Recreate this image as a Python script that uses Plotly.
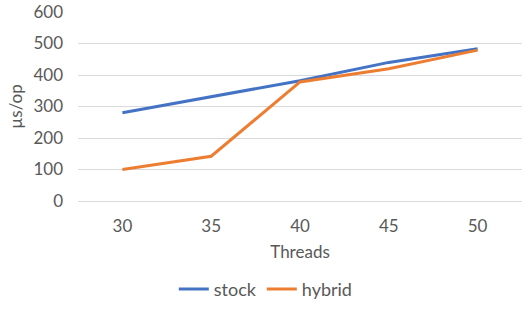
import plotly.graph_objects as go

threads = ["30", "35", "40", "45", "50"]
stock = [280, 330, 382, 440, 483]
hybrid = [100, 142, 378, 420, 479]
y_ticks = [0, 100, 200, 300, 400, 500, 600]

font_family = "Lato, 'Open Sans', sans-serif"
gray = "#595959"

fig = go.Figure()
fig.add_trace(go.Scatter(x=threads, y=stock, mode="lines", name="stock",
                         line=dict(color="#4472C4", width=3)))
fig.add_trace(go.Scatter(x=threads, y=hybrid, mode="lines", name="hybrid",
                         line=dict(color="#ED7D31", width=3)))

fig.update_layout(
    width=524, height=310,
    margin=dict(l=78, r=2, t=12, b=109),
    paper_bgcolor="white", plot_bgcolor="white",
    font=dict(family=font_family, color=gray, size=17),
    showlegend=True,
    legend=dict(orientation="h", yref="paper",
                x=0.423, xanchor="center", y=-0.565, yanchor="bottom",
                font=dict(size=18, color=gray), itemwidth=30,
                tracegroupgap=0),
    xaxis=dict(type="category", range=[-0.5, 4.5], showgrid=False,
               showline=False, zeroline=False, ticks="",
               ticklabelstandoff=13, automargin=False,
               title=dict(text="Threads", font=dict(size=17, color=gray), standoff=11)),
    yaxis=dict(range=[0, 600], tickvals=y_ticks, showgrid=True,
               gridcolor="#D9D9D9", gridwidth=1, zeroline=True,
               zerolinecolor="#D9D9D9", zerolinewidth=1, showline=False,
               ticks="", ticklabelstandoff=14, automargin=False,
               ticklabeloverflow="allow",
               title=dict(text="µs/op", font=dict(size=17, color=gray), standoff=6)),
)

fig.write_html(
    "out.html",
    config={"displayModeBar": False},
    post_script="document.body.style.margin='0';document.body.style.overflow='hidden';",
)
